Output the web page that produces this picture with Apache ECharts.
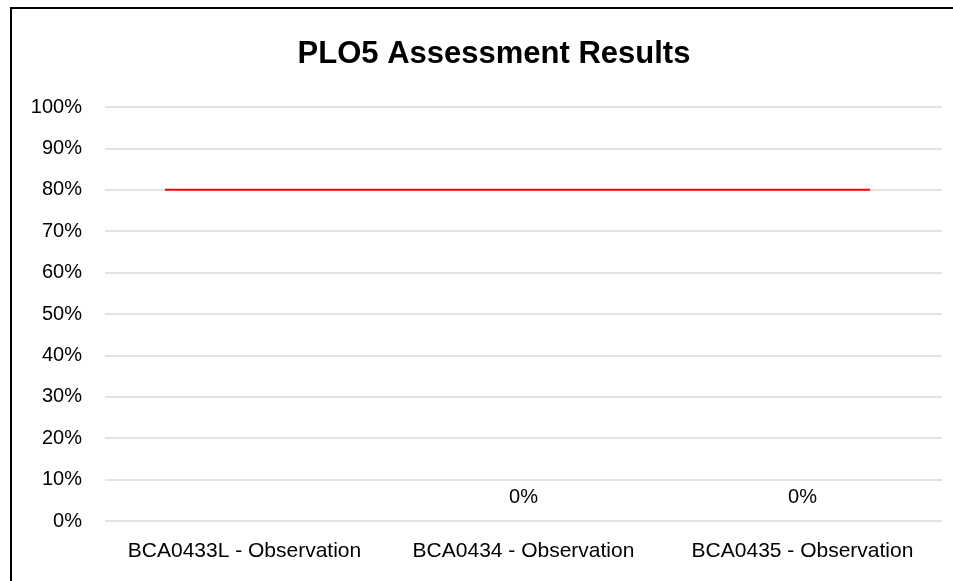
<!DOCTYPE html>
<html>
<head>
<meta charset="utf-8">
<script src="https://cdn.jsdelivr.net/npm/echarts@6/dist/echarts.min.js"></script>
<style>
html,body{margin:0;padding:0;background:#fff;}
#chart{width:953px;height:581px;}
</style>
</head>
<body>
<div id="chart"></div>
<script>
const categories = ['BCA0433L - Observation', 'BCA0434 - Observation', 'BCA0435 - Observation'];
const results = [null, 0, 0];
const targetValue = 0.8;
const targetSpan = [0.215, 2.742]; // in category units along the x extent
const yTicks = [0, 0.1, 0.2, 0.3, 0.4, 0.5, 0.6, 0.7, 0.8, 0.9, 1.0];

const chart = echarts.init(document.getElementById('chart'));
const FONT = 'Liberation Sans';
chart.setOption({
  animation: false,
  backgroundColor: '#fff',
  graphic: [{
    type: 'polyline',
    shape: { points: [[11, 600], [11, 8], [960, 8]] },
    style: { stroke: '#000', lineWidth: 2, fill: null }
  }],
  title: {
    text: 'PLO5 Assessment Results',
    left: 489, top: 34, textAlign: 'center',
    textStyle: { fontFamily: FONT, fontWeight: 'bold', fontSize: 31, color: '#000' }
  },
  grid: { left: 105, right: 11, top: 107, bottom: 60, containLabel: false },
  xAxis: [{
    type: 'category', data: categories,
    axisLine: { show: false }, axisTick: { show: false },
    axisLabel: { fontFamily: FONT, fontSize: 21, color: '#000', margin: 20, interval: 0 }
  }, {
    type: 'value', min: 0, max: categories.length, show: false
  }],
  yAxis: {
    type: 'value', min: yTicks[0], max: yTicks[yTicks.length - 1], interval: 0.1,
    axisLine: { show: false }, axisTick: { show: false },
    axisLabel: { fontFamily: FONT, fontSize: 20, color: '#000', margin: 23,
      formatter: v => Math.round(v * 100) + '%' },
    splitLine: { lineStyle: { color: '#d9d9d9', width: 1.5 } }
  },
  series: [{
    type: 'bar', data: results, xAxisIndex: 0, barWidth: '40%',
    itemStyle: { color: '#4472c4' },
    label: { show: true, position: 'top', distance: 14, fontFamily: FONT, fontSize: 20, color: '#000',
      formatter: p => (p.value == null ? '' : Math.round(p.value * 100) + '%') }
  }, {
    type: 'line', xAxisIndex: 1, symbol: 'none',
    data: targetSpan.map(x => [x, targetValue]),
    lineStyle: { color: '#ff0000', width: 2 }
  }]
});
</script>
</body>
</html>
